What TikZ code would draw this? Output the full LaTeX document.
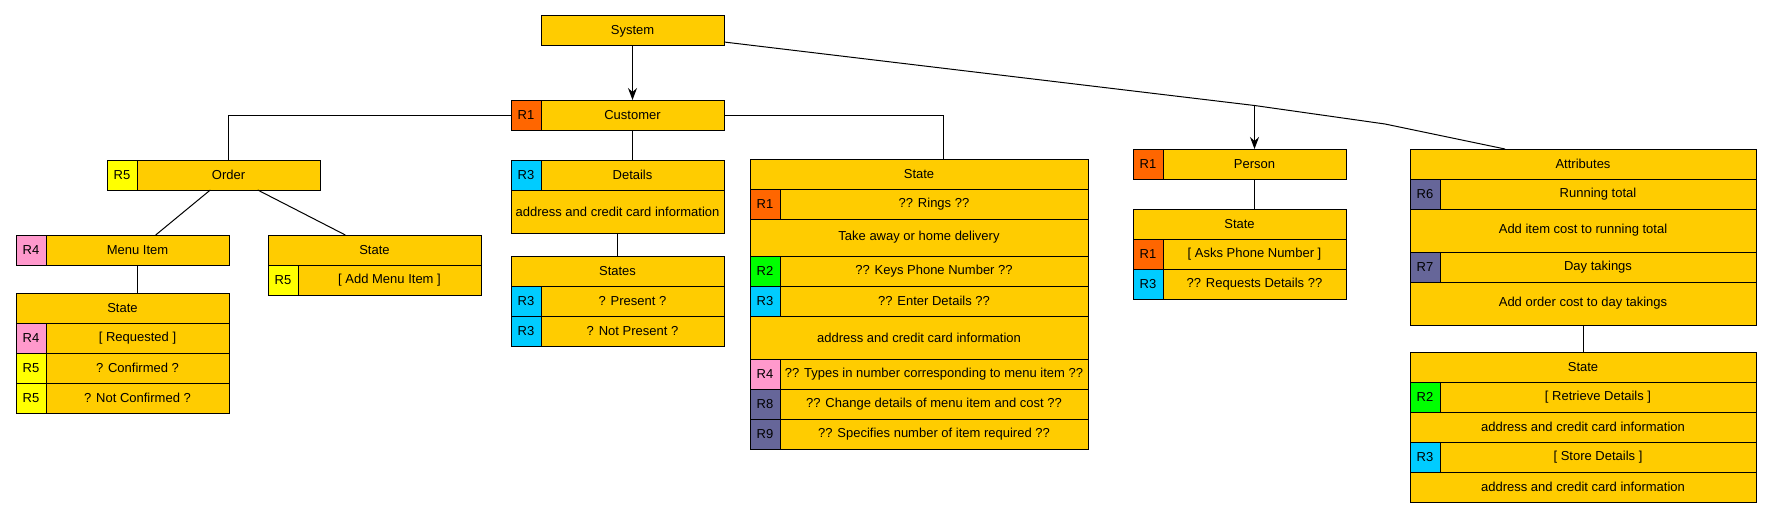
\documentclass[tikz,border=0pt]{standalone}
\usepackage{fontspec}
\setmainfont{Liberation Sans}
\usepackage{tikz}
\usetikzlibrary{arrows.meta,positioning}
\definecolor{BoxGold}{HTML}{FFCC00}
\definecolor{TagOrange}{HTML}{FF6600}
\definecolor{TagYellow}{HTML}{FFFF00}
\definecolor{TagPink}{HTML}{FF99CC}
\definecolor{TagCyan}{HTML}{00CCFF}
\definecolor{TagGreen}{HTML}{00FF00}
\definecolor{TagSlate}{HTML}{666699}
\tikzset{
  cell/.style={draw, fill=BoxGold, line width=1pt, inner sep=0pt, outer sep=0pt,
               minimum height=30pt, anchor=north west,
               font=\fontsize{13}{15}\selectfont},
  titlerow/.style={cell, minimum width=213pt},
  inforow/.style={titlerow, minimum height=43pt},
  textrow/.style={cell, minimum width=183pt},
  rtag/.style={cell, minimum width=30pt, fill=#1},
  link/.style={line width=1pt},
  flow/.style={link, -{Stealth[length=12pt, width=9pt, inset=4pt]}}
}

\begin{document}
\begin{tikzpicture}[x=1pt, y=-1pt]
  \useasboundingbox (0,0) rectangle (1771,519);

  % system and customer
  \node[textrow] (system) at (541,16) {System};
  \node[rtag=TagOrange] (custT) at (511,100) {R1};
  \node[textrow] (customer) at (custT.north east) {Customer};

  % order branch
  \node[rtag=TagYellow] (orderT) at (107,160) {R5};
  \node[textrow] (order) at (orderT.north east) {Order};
  \node[rtag=TagPink] (menuT) at (16,235) {R4};
  \node[textrow] (menu) at (menuT.north east) {Menu Item};
  \node[titlerow] (addst) at (268,235) {State};
  \node[rtag=TagYellow] (addT) at (addst.south west) {R5};
  \node[textrow] (add) at (addT.north east) {[ Add Menu Item ]};
  \node[titlerow] (itemst) at (16,293) {State};
  \node[rtag=TagPink] (reqT) at (itemst.south west) {R4};
  \node[textrow] (req) at (reqT.north east) {[ Requested ]};
  \node[rtag=TagYellow] (confT) at (reqT.south west) {R5};
  \node[textrow] (conf) at (confT.north east) {? Confirmed ?};
  \node[rtag=TagYellow] (nconfT) at (confT.south west) {R5};
  \node[textrow] (nconf) at (nconfT.north east) {? Not Confirmed ?};

  % details branch
  \node[rtag=TagCyan] (detT) at (511,160) {R3};
  \node[textrow] (details) at (detT.north east) {Details};
  \node[inforow] (detinfo) at (detT.south west) {address and credit card information};
  \node[titlerow] (detst) at (511,256) {States};
  \node[rtag=TagCyan] (presT) at (detst.south west) {R3};
  \node[textrow] (pres) at (presT.north east) {? Present ?};
  \node[rtag=TagCyan] (npresT) at (presT.south west) {R3};
  \node[textrow] (npres) at (npresT.north east) {? Not Present ?};

  % customer state
  \node[titlerow, minimum width=338pt] (custst) at (750,159) {State};
  \node[rtag=TagOrange] (ringT) at (custst.south west) {R1};
  \node[textrow, minimum width=308pt] (ring) at (ringT.north east) {?? Rings ??};
  \node[titlerow, minimum width=338pt, minimum height=37pt] (takeaway) at (ringT.south west) {Take away or home delivery};
  \node[rtag=TagGreen] (keysT) at (takeaway.south west) {R2};
  \node[textrow, minimum width=308pt] (keys) at (keysT.north east) {?? Keys Phone Number ??};
  \node[rtag=TagCyan] (enterT) at (keysT.south west) {R3};
  \node[textrow, minimum width=308pt] (enter) at (enterT.north east) {?? Enter Details ??};
  \node[inforow, minimum width=338pt] (custinfo) at (enterT.south west) {address and credit card information};
  \node[rtag=TagPink] (typesT) at (custinfo.south west) {R4};
  \node[textrow, minimum width=308pt] (types) at (typesT.north east) {?? Types in number corresponding to menu item ??};
  \node[rtag=TagSlate] (changeT) at (typesT.south west) {R8};
  \node[textrow, minimum width=308pt] (change) at (changeT.north east) {?? Change details of menu item and cost ??};
  \node[rtag=TagSlate] (specT) at (changeT.south west) {R9};
  \node[textrow, minimum width=308pt] (spec) at (specT.north east) {?? Specifies number of item required ??};

  % person
  \node[rtag=TagOrange] (personT) at (1133,149) {R1};
  \node[textrow] (person) at (personT.north east) {Person};
  \node[titlerow] (persst) at (1133,209) {State};
  \node[rtag=TagOrange] (asksT) at (persst.south west) {R1};
  \node[textrow] (asks) at (asksT.north east) {[ Asks Phone Number ]};
  \node[rtag=TagCyan] (reqdT) at (asksT.south west) {R3};
  \node[textrow] (reqd) at (reqdT.north east) {?? Requests Details ??};

  % attributes
  \node[titlerow, minimum width=346pt] (attrs) at (1410,149) {Attributes};
  \node[rtag=TagSlate] (runT) at (attrs.south west) {R6};
  \node[textrow, minimum width=316pt] (run) at (runT.north east) {Running total};
  \node[inforow, minimum width=346pt] (addcost) at (runT.south west) {Add item cost to running total};
  \node[rtag=TagSlate] (dayT) at (addcost.south west) {R7};
  \node[textrow, minimum width=316pt] (day) at (dayT.north east) {Day takings};
  \node[inforow, minimum width=346pt] (ordcost) at (dayT.south west) {Add order cost to day takings};
  \node[titlerow, minimum width=346pt] (sysst) at (1410,352) {State};
  \node[rtag=TagGreen] (retT) at (sysst.south west) {R2};
  \node[textrow, minimum width=316pt] (ret) at (retT.north east) {[ Retrieve Details ]};
  \node[titlerow, minimum width=346pt] (retinfo) at (retT.south west) {address and credit card information};
  \node[rtag=TagCyan] (storeT) at (retinfo.south west) {R3};
  \node[textrow, minimum width=316pt] (store) at (storeT.north east) {[ Store Details ]};
  \node[titlerow, minimum width=346pt] (storeinfo) at (storeT.south west) {address and credit card information};

  % connectors
  \draw[flow] (system) -- (customer);
  \draw[link] (order.north) |- (custT.west);
  \draw[link] (customer.east) -| ([xshift=24pt]custst.north);
  \draw[link] (customer) -- (details);
  \draw[link] (order) -- (menu);
  \draw[link] (order) -- (addst);
  \draw[link] (menu.south) -- (menu.south |- itemst.north);
  \draw[link] (detinfo) -- (detst);
  \draw[link] (person.south) -- (person.south |- persst.north);
  \draw[link] (ordcost) -- (sysst);

  \coordinate (sysout) at ([yshift=-11pt]system.east);
  \coordinate (tap) at (person.north |- 0,105.5);
  \coordinate (bend) at (1385,124);
  \draw[link] (sysout) -- (tap) -- (bend) -- ([xshift=-78pt]attrs.north);
  \draw[flow] (tap) -- (person.north);
\end{tikzpicture}
\end{document}
